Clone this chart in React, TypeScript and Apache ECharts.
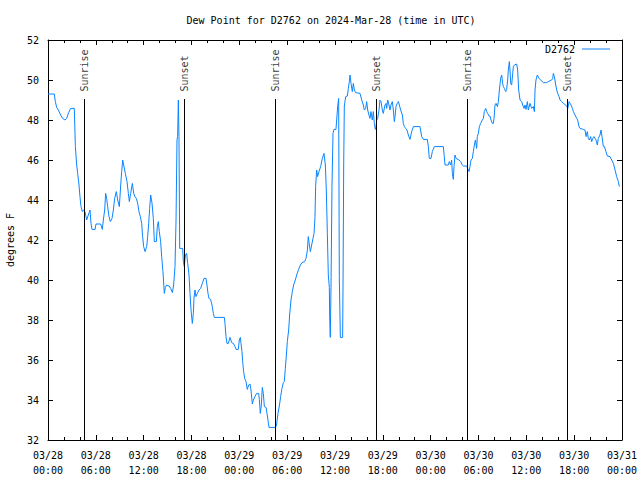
import React, { useEffect, useRef } from "react";
import * as echarts from "echarts";

// hours since 2024-03-28 00:00 UTC
const hours: number[] = [
  0, 0.79, 0.92, 1.09, 1.3, 1.59, 1.84, 2.13, 2.34, 2.59, 2.84, 3.3, 3.43, 3.6, 3.72, 3.89, 4.01, 4.14, 4.31, 4.43,
  4.64, 4.85, 5.06, 5.27, 5.39, 5.52, 5.9, 6.02, 6.61, 6.82, 6.94, 7.11, 7.23, 7.36, 7.48, 7.65, 7.82, 8.03, 8.2, 8.36,
  8.57, 8.74, 8.95, 9.12, 9.24, 9.37, 9.49, 9.7, 9.91, 10.08, 10.2, 10.37, 10.58, 10.75, 10.91, 11.08, 11.25, 11.41, 11.58, 11.75,
  11.87, 12.0, 12.17, 12.38, 12.5, 12.63, 12.75, 12.88, 13.05, 13.21, 13.34, 13.59, 13.71, 13.84, 13.96, 14.13, 14.26, 14.42, 14.59, 14.72,
  14.88, 15.18, 15.39, 15.6, 15.76, 15.93, 16.06, 16.18, 16.26, 16.35, 16.43, 16.52, 16.89, 16.98, 17.1, 17.23, 17.39, 17.52, 17.69, 17.81,
  17.94, 18.1, 18.23, 18.31, 18.44, 18.56, 18.73, 18.94, 19.15, 19.36, 19.57, 19.82, 19.94, 20.07, 20.19, 20.4, 20.61, 20.74, 20.86, 22.12,
  22.2, 22.33, 22.45, 22.62, 22.83, 23.04, 23.25, 23.46, 23.59, 23.87, 24.0, 24.13, 24.21, 24.33, 24.42, 24.54, 24.67, 24.84, 25.0, 25.17,
  25.34, 25.46, 25.63, 25.76, 25.96, 26.17, 26.43, 26.51, 26.63, 26.76, 26.88, 27.01, 27.14, 27.35, 27.47, 27.64, 27.72, 28.56, 28.68, 28.85,
  29.02, 29.18, 29.35, 29.52, 29.64, 29.77, 29.9, 30.02, 30.19, 30.31, 30.48, 30.65, 30.81, 31.02, 31.23, 31.44, 31.65, 31.86, 32.19, 32.36,
  32.53, 32.65, 32.78, 32.91, 33.07, 33.24, 33.37, 33.49, 33.57, 33.7, 33.82, 33.99, 34.2, 34.41, 34.62, 34.79, 34.91, 35.04, 35.16, 35.29,
  35.33, 35.41, 35.5, 35.62, 35.75, 35.87, 36.12, 36.21, 36.33, 36.46, 36.54, 36.67, 36.96, 37.01, 37.09, 37.17, 37.34, 37.55, 37.67, 37.8,
  37.88, 38.01, 38.17, 38.3, 38.43, 38.59, 39.14, 39.35, 39.55, 39.68, 39.85, 39.97, 40.1, 40.26, 40.39, 40.51, 40.68, 40.81, 40.93, 41.06,
  41.14, 41.23, 41.35, 41.52, 41.64, 41.77, 41.94, 42.06, 42.27, 42.4, 42.48, 42.61, 42.77, 42.9, 43.02, 43.19, 43.32, 43.44, 43.53, 43.65,
  43.82, 43.95, 44.07, 44.24, 44.45, 44.57, 44.7, 44.86, 45.03, 45.2, 45.41, 45.62, 45.83, 46.66, 46.87, 47.08, 47.58, 47.71, 47.83, 48.04,
  48.21, 48.46, 49.59, 49.71, 49.8, 50.21, 50.34, 50.51, 50.63, 50.72, 50.84, 50.93, 51.05, 51.18, 51.55, 51.76, 51.97, 52.1, 52.52, 52.64,
  52.81, 52.93, 53.06, 53.23, 53.35, 53.48, 53.61, 53.77, 53.85, 53.98, 54.11, 54.27, 54.48, 54.61, 54.73, 54.9, 55.03, 55.15, 55.32, 55.44,
  55.57, 55.74, 55.86, 55.95, 56.07, 56.2, 56.37, 56.49, 56.62, 56.78, 56.91, 57.03, 57.12, 57.24, 57.41, 57.53, 57.66, 57.74, 57.87, 57.95,
  58.04, 58.16, 58.29, 58.37, 58.5, 58.79, 58.91, 59.04, 59.21, 59.42, 59.54, 59.71, 59.83, 59.96, 60.13, 60.25, 60.46, 60.67, 60.88, 61.01,
  61.09, 61.21, 61.38, 61.59, 61.8, 62.13, 62.55, 62.76, 63.18, 63.31, 63.39, 63.52, 63.69, 63.81, 63.94, 64.1, 64.23, 64.44, 64.65, 64.94,
  65.07, 65.2, 65.36, 65.49, 65.61, 65.78, 65.9, 66.11, 66.32, 66.44, 66.61, 66.74, 67.15, 67.36, 67.49, 67.65, 67.78, 67.9, 68.07, 68.2,
  68.32, 68.49, 68.74, 68.91, 69.03, 69.24, 69.37, 69.49, 69.66, 69.79, 69.99, 70.16, 70.5, 70.71, 70.92, 71.13, 71.33, 71.54, 71.67,
];

// dew point, degrees F
const dewPoint: number[] = [
  49.3, 49.3, 48.92, 48.63, 48.5, 48.25, 48.08, 48.0, 48.08, 48.37, 48.58, 48.58, 46.67, 45.75, 45.33, 44.75, 44.17, 43.67, 43.42, 43.5,
  43.42, 43.0, 43.25, 43.5, 42.83, 42.53, 42.53, 42.8, 42.8, 42.53, 43.0, 43.5, 44.33, 44.08, 43.67, 43.17, 42.92, 43.08, 43.5, 44.08,
  44.42, 44.0, 43.67, 44.75, 45.42, 46.0, 45.75, 45.33, 44.92, 44.33, 43.92, 44.33, 44.83, 44.33, 44.17, 44.08, 43.83, 43.42, 43.17, 42.83,
  42.17, 41.67, 41.42, 41.67, 42.17, 42.83, 43.58, 44.25, 43.83, 43.08, 41.92, 41.92, 42.67, 42.92, 42.42, 41.92, 41.17, 40.42, 39.33, 39.63,
  39.75, 39.7, 39.58, 39.37, 39.75, 40.67, 43.0, 47.0, 47.17, 49.0, 47.17, 41.58, 41.58, 40.92, 40.67, 41.25, 41.33, 40.83, 40.25, 39.33,
  38.5, 37.83, 38.33, 39.08, 39.5, 39.17, 39.33, 39.5, 39.58, 39.83, 40.08, 40.08, 39.75, 39.33, 39.08, 39.03, 38.67, 38.33, 38.13, 38.13,
  37.83, 37.17, 36.83, 36.83, 37.13, 36.87, 36.83, 36.67, 36.53, 36.53, 37.0, 37.13, 36.83, 36.42, 35.92, 35.42, 35.08, 34.92, 34.53, 34.75,
  34.8, 34.5, 33.8, 34.0, 34.17, 34.33, 34.33, 34.03, 33.33, 33.75, 34.63, 34.33, 33.67, 33.63, 33.33, 32.87, 32.63, 32.63, 32.8, 33.33,
  33.7, 34.17, 34.58, 34.87, 34.92, 35.58, 36.25, 36.92, 37.5, 38.25, 39.0, 39.42, 39.75, 40.0, 40.3, 40.53, 40.75, 40.87, 40.92, 41.08,
  41.47, 42.17, 41.75, 41.42, 41.75, 42.08, 42.33, 43.17, 44.67, 45.5, 45.17, 45.42, 45.67, 46.08, 46.33, 45.75, 44.5, 42.33, 40.25, 39.63,
  38.17, 37.13, 39.63, 44.67, 47.33, 47.53, 47.53, 48.0, 48.67, 49.08, 40.17, 37.13, 37.13, 40.0, 45.75, 48.7, 49.17, 49.2, 49.58, 49.92,
  50.25, 49.83, 49.42, 49.83, 49.5, 49.37, 49.33, 49.0, 48.75, 48.5, 48.58, 48.92, 48.5, 48.25, 48.08, 48.42, 48.0, 48.42, 47.83, 47.53,
  47.67, 48.0, 48.08, 48.5, 49.0, 48.92, 48.5, 48.33, 48.75, 48.83, 48.58, 49.0, 48.75, 48.5, 48.75, 48.92, 48.5, 47.92, 48.17, 48.67,
  48.83, 48.92, 48.75, 48.5, 48.25, 47.83, 47.67, 47.58, 47.5, 47.25, 47.03, 47.42, 47.67, 47.67, 47.17, 47.03, 47.03, 46.67, 46.08, 46.08,
  46.42, 46.67, 46.67, 46.17, 45.75, 45.75, 45.92, 45.75, 46.0, 45.33, 45.03, 45.67, 46.25, 46.08, 46.0, 45.92, 45.75, 45.7, 45.7, 45.58,
  45.42, 45.67, 46.0, 46.08, 46.42, 46.75, 47.0, 46.58, 47.17, 47.33, 47.67, 47.83, 48.0, 48.08, 48.42, 48.58, 48.42, 48.33, 48.2, 48.2,
  48.0, 47.83, 47.83, 48.08, 48.75, 48.83, 48.67, 48.92, 49.5, 50.08, 50.25, 49.83, 49.67, 49.58, 49.42, 49.53, 50.0, 50.5, 50.92, 50.5,
  49.83, 49.75, 50.33, 50.67, 50.75, 50.8, 50.5, 49.5, 49.0, 48.92, 48.75, 48.58, 48.75, 48.53, 48.92, 48.5, 48.83, 48.58, 48.67, 48.42,
  49.5, 50.0, 50.25, 50.08, 50.0, 49.87, 49.87, 49.92, 50.0, 50.08, 50.33, 50.17, 49.75, 49.5, 49.33, 49.17, 49.0, 48.92, 48.83, 48.75,
  48.67, 48.58, 48.92, 48.83, 48.75, 48.58, 48.42, 48.25, 48.08, 48.0, 47.67, 47.58, 47.53, 47.5, 47.17, 47.42, 47.08, 47.0, 47.17, 46.92,
  47.08, 47.17, 47.0, 46.75, 47.08, 47.25, 47.5, 47.17, 46.67, 46.67, 46.42, 46.2, 46.17, 46.0, 45.83, 45.5, 45.17, 44.92, 44.67,
];

// sunrise / sunset events (hours since start)
const sunEventHours: number[] = [4.55, 17.1, 28.52, 41.19, 52.6, 65.15];
const sunEventNames: string[] = ["Sunrise", "Sunset", "Sunrise", "Sunset", "Sunrise", "Sunset"];

const seriesName = "D2762";
const titleText = "Dew Point for D2762 on 2024-Mar-28 (time in UTC)";
const yAxisName = "degrees F";
const startUtc = Date.UTC(2024, 2, 28, 0, 0, 0);

const FONT = "'DejaVu Sans Mono', 'Liberation Mono', monospace";
const LINE_COLOR = "#0a84ff";

const pad = (n: number) => (n < 10 ? "0" + n : "" + n);

export default function App() {
  const ref = useRef<HTMLDivElement>(null);

  useEffect(() => {
    if (!ref.current) return;
    const chart = echarts.init(ref.current, undefined, { renderer: "svg" });

    const yMin = 32;
    const yMax = 52;
    const lineTop = yMin + (yMax - yMin) * 0.8525;
    const labelAnchor = lineTop + 0.37;

    const lineData = hours.map((h, i) => [h, dewPoint[i]]);

    const tickFmt = (v: number) => {
      const d = new Date(startUtc + v * 3600 * 1000);
      return `${pad(d.getUTCMonth() + 1)}/${pad(d.getUTCDate())}\n${pad(d.getUTCHours())}:${pad(d.getUTCMinutes())}`;
    };

    const baseX = {
      type: "value" as const,
      min: 0,
      max: 72,
      interval: 6,
      splitLine: { show: false },
      axisLine: { show: true, onZero: false, lineStyle: { color: "#000", width: 1 } },
      axisTick: { show: true, inside: true, length: 5, lineStyle: { color: "#000" } },
      minorTick: { show: true, splitNumber: 3, length: 3, lineStyle: { color: "#000" } },
    };
    const baseY = {
      type: "value" as const,
      min: yMin,
      max: yMax,
      interval: 2,
      splitLine: { show: false },
      axisLine: { show: true, onZero: false, lineStyle: { color: "#000", width: 1 } },
      axisTick: { show: true, inside: true, length: 5, lineStyle: { color: "#000" } },
    };

    chart.setOption({
      animation: false,
      backgroundColor: "#fff",
      title: {
        text: titleText,
        left: 331,
        textAlign: "center",
        top: 15,
        padding: 0,
        textStyle: { fontFamily: FONT, fontSize: 10, fontWeight: "normal", color: "#000" },
      },
      legend: {
        data: [{ name: seriesName, icon: "rect" }],
        right: 30,
        top: 44,
        padding: 0,
        align: "right",
        itemWidth: 28,
        itemHeight: 1,
        textStyle: { fontFamily: FONT, fontSize: 10, color: "#000", padding: [0, 2, 0, 0] },
      },
      grid: { left: 48, right: 18, top: 40, bottom: 40, containLabel: false, outerBoundsMode: "none" },
      xAxis: [
        {
          ...baseX,
          position: "bottom",
          axisLabel: {
            formatter: tickFmt,
            fontFamily: FONT,
            fontSize: 10,
            color: "#000",
            lineHeight: 15,
            margin: 8,
          },
        },
        { ...baseX, position: "top", axisLabel: { show: false } },
      ],
      yAxis: [
        {
          ...baseY,
          position: "left",
          name: yAxisName,
          nameLocation: "middle",
          nameRotate: 90,
          nameGap: 33,
          nameTextStyle: { fontFamily: FONT, fontSize: 10, color: "#000" },
          axisLabel: { fontFamily: FONT, fontSize: 10, color: "#000", margin: 9 },
        },
        { ...baseY, position: "right", axisLabel: { show: false } },
      ],
      series: [
        {
          name: seriesName,
          type: "line",
          data: lineData,
          symbol: "none",
          showSymbol: false,
          lineStyle: { color: LINE_COLOR, width: 1 },
          itemStyle: { color: LINE_COLOR },
          z: 3,
        },
        {
          name: "sun",
          type: "scatter",
          data: sunEventHours.map((h, i) => ({ value: [h, labelAnchor], name: sunEventNames[i] })),
          symbolSize: 0,
          silent: true,
          label: {
            show: true,
            formatter: (p: any) => p.name,
            position: [0, 0],
            rotate: 90,
            align: "left",
            verticalAlign: "middle",
            fontFamily: FONT,
            fontSize: 10,
            color: "#000",
          },
          markLine: {
            silent: true,
            symbol: ["none", "none"],
            label: { show: false },
            lineStyle: { color: "#000", width: 1, type: "solid" },
            data: sunEventHours.map((h) => [{ coord: [h, yMin] }, { coord: [h, lineTop] }]),
          },
          z: 2,
        },
      ],
    });

    return () => chart.dispose();
  }, []);

  return (
    <div
      ref={ref}
      style={{ position: "fixed", left: 0, top: 0, width: 640, height: 480, background: "#fff" }}
    />
  );
}
